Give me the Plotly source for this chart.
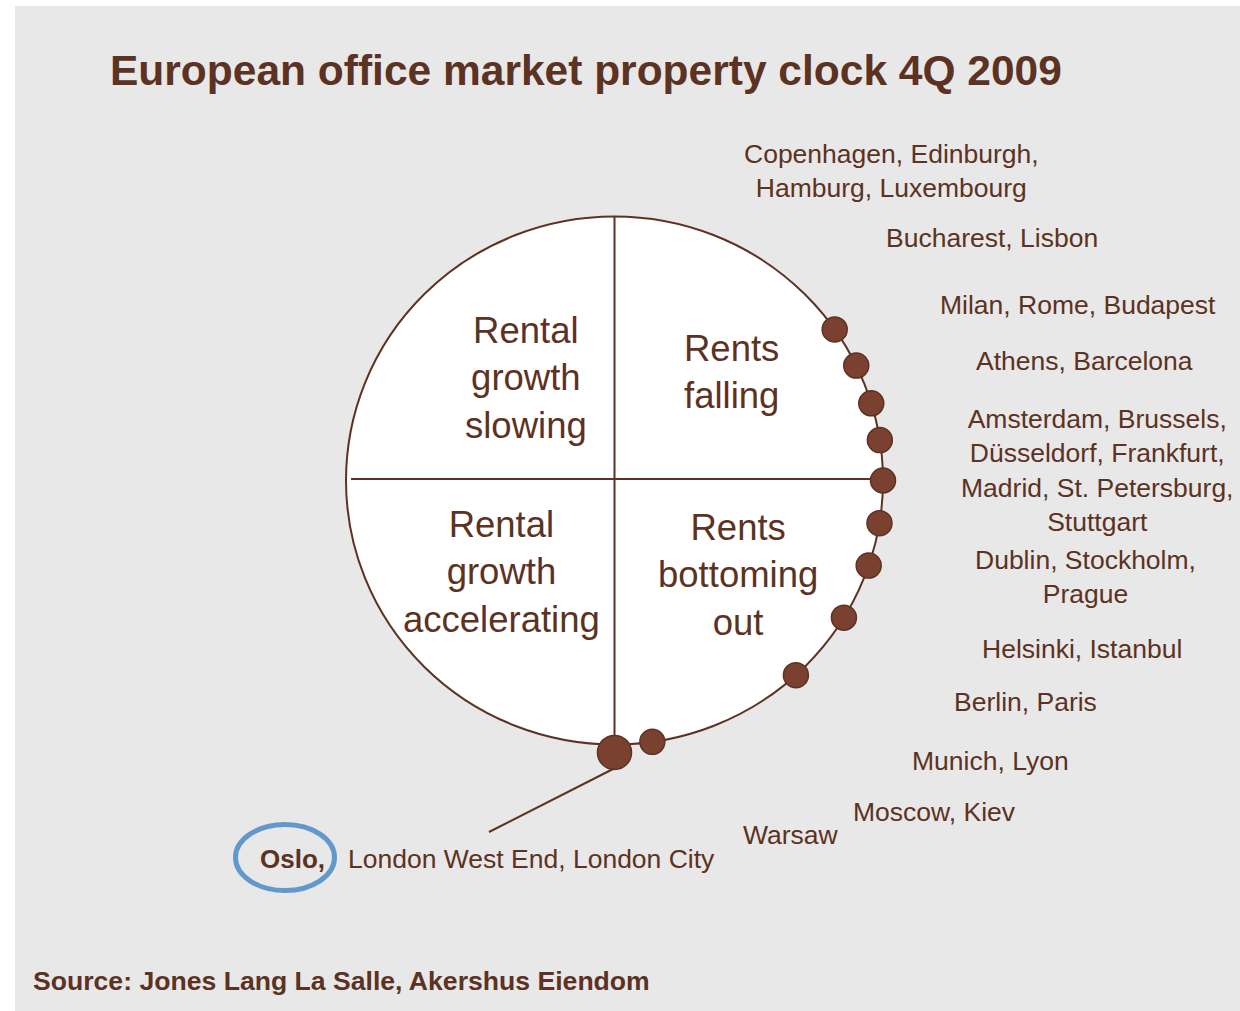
import numpy as np
import plotly.graph_objects as go

# ---- data ----
TITLE = "European office market property clock 4Q 2009"
SOURCE = "Source: Jones Lang La Salle, Akershus Eiendom"

quadrant_labels = [
    "Rental<br>growth<br>slowing",
    "Rents<br>falling",
    "Rental<br>growth<br>accelerating",
    "Rents<br>bottoming<br>out",
]

city_groups = [
    "Copenhagen, Edinburgh,<br>Hamburg, Luxembourg",
    "Bucharest, Lisbon",
    "Milan, Rome, Budapest",
    "Athens, Barcelona",
    "Amsterdam, Brussels,<br>Düsseldorf, Frankfurt,<br>Madrid, St. Petersburg,<br>Stuttgart",
    "Dublin, Stockholm,<br>Prague",
    "Helsinki, Istanbul",
    "Berlin, Paris",
    "Munich, Lyon",
    "Moscow, Kiev",
    "Warsaw",
]
highlight_city = "Oslo,"
highlight_rest = "London West End, London City"

# clock position of each dot (degrees, 0 = 3 o'clock, counter-clockwise)
dot_angles = [34.9, 25.8, 17.0, 8.8, 0.0, -9.3, -18.8, -31.3, -47.5, -81.9, -90.0]

# ---- layout constants (pixel space) ----
W, H = 1240, 1011
CX, CY, RX, RY = 614.5, 480.5, 268.5, 264.0
BROWN = "#5c3222"
DOT = "#7a4131"
BLUE = "#6199cc"
FONT = "Liberation Sans, Arial, Helvetica, sans-serif"

quad_pos = [(526, 378), (731, 372), (501, 572), (738, 575)]
group_pos = [(891, 171), (992, 238), (1078, 305), (1084, 361), (1097, 470),
             (1085, 577), (1082, 649), (1025, 702), (990, 761), (934, 812), (791, 835)]

ang = np.radians(dot_angles)
rad = np.ones(len(dot_angles))
rad[-1] = 1.03
dot_x = CX + RX * rad * np.cos(ang)
dot_y = CY - RY * rad * np.sin(ang)
dot_size = [25] * (len(dot_angles) - 1) + [34]

fig = go.Figure()

fig.add_trace(go.Scatter(
    x=dot_x, y=dot_y, mode="markers",
    marker=dict(size=dot_size, color=DOT, opacity=1, line=dict(color=BROWN, width=1.5)),
    hoverinfo="skip", showlegend=False, cliponaxis=False,
))

shapes = [
    # panel
    dict(type="rect", x0=15, y0=6, x1=W, y1=H, fillcolor="#e8e8e8", line_width=0, layer="below"),
    # clock face
    dict(type="circle", x0=CX - RX, x1=CX + RX, y0=CY - RY, y1=CY + RY,
         fillcolor="white", line=dict(color=BROWN, width=2), layer="below"),
    dict(type="line", x0=351, x1=CX + RX, y0=479, y1=479, line=dict(color=BROWN, width=2), layer="below"),
    dict(type="line", x0=CX, x1=CX, y0=CY - RY, y1=752, line=dict(color=BROWN, width=2), layer="below"),
    # leader to the Oslo / London group
    dict(type="line", x0=615, y0=768, x1=489, y1=832, line=dict(color=BROWN, width=2), layer="below"),
    # highlight ring around Oslo
    dict(type="circle", x0=235.5, x1=334.5, y0=824.5, y1=890.5, line=dict(color=BLUE, width=5)),
]

ann = [
    dict(x=108, y=70, text=f"<b>{TITLE}</b>", xanchor="left", yanchor="middle",
         font=dict(size=42.5, color=BROWN)),
    dict(x=31, y=981, text=f"<b>{SOURCE}</b>", xanchor="left", yanchor="middle",
         font=dict(size=26.6, color=BROWN)),
    dict(x=258, y=859, text=f"<b>{highlight_city}</b>", xanchor="left", yanchor="middle",
         font=dict(size=26, color=BROWN)),
    dict(x=346, y=859, text=highlight_rest, xanchor="left", yanchor="middle",
         font=dict(size=26.5, color=BROWN)),
]
for txt, (x, y) in zip(quadrant_labels, quad_pos):
    ann.append(dict(x=x, y=y, text=txt, xanchor="center", yanchor="middle", align="center",
                    font=dict(size=36.5, color=BROWN)))
for txt, (x, y) in zip(city_groups, group_pos):
    ann.append(dict(x=x, y=y, text=txt, xanchor="center", yanchor="middle", align="center",
                    font=dict(size=26.5, color=BROWN)))
for a in ann:
    a.update(xref="x", yref="y", showarrow=False)

fig.update_layout(
    width=W, height=H,
    margin=dict(l=0, r=0, t=0, b=0),
    paper_bgcolor="white", plot_bgcolor="rgba(0,0,0,0)",
    font=dict(family=FONT, color=BROWN),
    xaxis=dict(range=[0, W], visible=False, fixedrange=True),
    yaxis=dict(range=[H, 0], visible=False, fixedrange=True),
    shapes=shapes, annotations=ann,
)

# drop the default page margin so the figure sits at the window origin
fig.write_html(
    "out.html",
    config={"displayModeBar": False},
    post_script="document.body.style.margin='0';document.body.style.overflow='hidden';",
)
